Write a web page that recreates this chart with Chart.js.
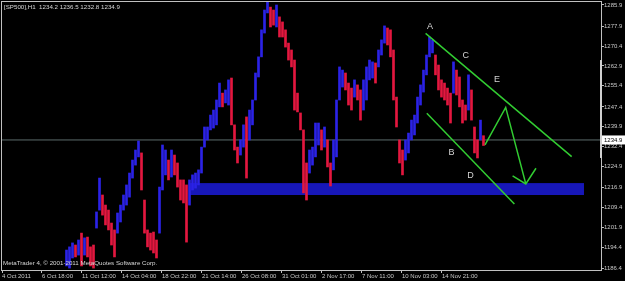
<!DOCTYPE html>
<html>
<head>
<meta charset="utf-8">
<script src="https://cdn.jsdelivr.net/npm/chart.js@4.4.1/dist/chart.umd.min.js"></script>
<style>
  html, body { margin: 0; padding: 0; background: #000; }
  #wrap { width: 625px; height: 281px; }
</style>
</head>
<body>
<div id="wrap"><canvas id="priceChart"></canvas></div>
<script>
// SP500 H1 bars. Bars before slot 21 are below the visible price range.
const firstBar = 21;
const barHigh = [
  1193.3, 1194.5, 1196.0, 1195.2, 1197.1, 1199.7, 1197.9, 1198.2, 1194.5, 1195.2,
  1207.7, 1220.5, 1214.1, 1210.3, 1208.4, 1203.5, 1200.9, 1207.3, 1210.3, 1214.1,
  1217.9, 1222.4, 1227.3, 1231.1, 1234.5, 1230.0, 1212.2, 1200.9, 1199.7, 1200.1,
  1197.1, 1217.1, 1233.0, 1231.1, 1227.3, 1231.1, 1229.2, 1226.2, 1219.8, 1219.8,
  1217.9, 1219.8, 1221.7, 1222.4, 1223.6, 1232.2, 1239.8, 1239.8, 1244.3, 1246.2,
  1250.0, 1256.4, 1252.6, 1253.8, 1257.6, 1258.3, 1240.6, 1232.2, 1234.9, 1240.6,
  1243.6, 1246.2, 1250.0, 1260.2, 1266.3, 1276.5, 1284.0, 1287.0, 1285.1, 1284.0,
  1285.9, 1281.4, 1279.5, 1276.5, 1271.5, 1268.9, 1265.1, 1252.6, 1245.1, 1238.7,
  1226.2, 1231.1, 1232.2, 1241.3, 1241.3, 1238.7, 1239.8, 1234.9, 1226.2, 1234.9,
  1250.0, 1262.5, 1261.3, 1260.2, 1256.4, 1254.5, 1257.6, 1255.7, 1253.8, 1257.6,
  1262.5, 1265.1, 1264.4, 1264.0, 1268.9, 1272.7, 1278.0, 1277.2, 1276.5, 1268.9,
  1251.1, 1234.9, 1231.1, 1234.9, 1237.5, 1242.4, 1244.3, 1251.1, 1255.7, 1261.3,
  1267.0, 1273.8, 1272.7, 1267.0, 1263.2, 1257.6, 1256.4, 1254.5, 1252.6, 1264.4,
  1261.3, 1258.7, 1250.0, 1248.1, 1259.5, 1253.8, 1239.8, 1234.9, 1242.4, 1236.5
];
const barLow = [
  1187.3, 1186.5, 1190.3, 1190.7, 1191.4, 1187.3, 1191.4, 1190.7, 1187.3, 1186.5,
  1201.6, 1208.4, 1206.5, 1202.8, 1200.9, 1195.2, 1190.7, 1199.7, 1203.9, 1208.4,
  1210.3, 1213.3, 1220.5, 1225.4, 1228.5, 1216.0, 1199.7, 1194.5, 1193.3, 1192.2,
  1190.3, 1199.7, 1216.0, 1221.7, 1219.8, 1220.9, 1221.7, 1217.1, 1212.2, 1211.1,
  1196.3, 1210.3, 1216.0, 1216.7, 1217.9, 1222.4, 1232.2, 1234.9, 1238.7, 1239.4,
  1240.6, 1247.4, 1247.4, 1248.9, 1248.1, 1240.6, 1231.1, 1226.2, 1229.2, 1232.2,
  1220.5, 1234.9, 1240.6, 1250.0, 1258.7, 1266.3, 1275.3, 1282.9, 1277.6, 1278.3,
  1277.6, 1273.8, 1273.8, 1270.0, 1265.1, 1262.5, 1246.2, 1245.5, 1238.7, 1214.9,
  1212.2, 1222.4, 1225.4, 1228.5, 1233.0, 1231.1, 1232.2, 1224.7, 1217.5, 1223.6,
  1228.5, 1250.0, 1254.9, 1253.8, 1248.1, 1246.2, 1251.1, 1250.0, 1242.4, 1246.2,
  1250.0, 1257.6, 1258.3, 1256.4, 1262.5, 1267.0, 1271.5, 1270.8, 1266.3, 1250.0,
  1239.8, 1226.2, 1221.7, 1227.3, 1230.0, 1234.9, 1236.8, 1241.3, 1248.1, 1253.0,
  1259.5, 1266.3, 1267.8, 1259.5, 1253.8, 1251.1, 1250.0, 1248.1, 1241.3, 1252.6,
  1251.9, 1247.4, 1241.3, 1242.4, 1246.2, 1242.4, 1230.0, 1228.1, 1234.9, 1232.8
];

const symbolTitle = '[SP500],H1  1234.2 1236.5 1232.8 1234.9';
const copyright = 'MetaTrader 4, \u00a9 2001-2011 MetaQuotes Software Corp.';
const lastPrice = 1234.9;

const timeLabels = ['4 Oct 2011', '6 Oct 18:00', '11 Oct 12:00', '14 Oct 04:00', '18 Oct 22:00',
  '21 Oct 14:00', '26 Oct 08:00', '31 Oct 01:00', '2 Nov 17:00', '7 Nov 11:00', '10 Nov 03:00', '14 Nov 21:00'];
const priceTicks = [1285.9, 1277.9, 1270.4, 1262.9, 1255.4, 1247.4, 1239.9,
  1232.4, 1224.9, 1216.9, 1209.4, 1201.9, 1194.4, 1186.4];

// objects drawn on the chart (bar slot / price)
const supportZone = { from: 62.7, to: 194, top: 1218.6, bottom: 1214.1 };
const upperTrend = [{ x: 141.2, y: 1275.2 }, { x: 189.9, y: 1228.6 }];
const lowerTrend = [{ x: 141.6, y: 1245.0 }, { x: 170.8, y: 1210.7 }];
const forecastPath = [{ x: 161.0, y: 1233.0 }, { x: 167.9, y: 1247.2 }, { x: 174.6, y: 1218.3 }];
const arrowHead = [{ x: 170.2, y: 1221.3 }, { x: 174.6, y: 1218.3 }, { x: 178.0, y: 1224.2 }];
const waveLabels = [
  { text: 'A', x: 142.7, y: 1277.6 },
  { text: 'C', x: 154.6, y: 1266.9 },
  { text: 'E', x: 165.0, y: 1257.8 },
  { text: 'B', x: 149.8, y: 1230.0 },
  { text: 'D', x: 156.2, y: 1221.5 }
];
const scaleMarker = [1228.1, 1265.1];

const xMax = 199.67;
const labelStep = 40 / 3;
const upColor = '#2b22e6';
const downColor = '#e3173f';
const lineGreen = '#32cd32';

Chart.defaults.font.family = '"Liberation Sans", Arial, sans-serif';
Chart.defaults.font.size = 6;

const bars = barHigh.map((h, i) => ({ x: firstBar + i + 0.5, y: [barLow[i], h] }));
const barColors = barHigh.map((h, i) => {
  if (i === 0) return upColor;
  const mid = (h + barLow[i]) / 2;
  const prev = (barHigh[i - 1] + barLow[i - 1]) / 2;
  return mid >= prev ? upColor : downColor;
});

const greenLine = (data) => ({
  type: 'line', data, borderColor: lineGreen, borderWidth: 1.5,
  pointRadius: 0, tension: 0, fill: false, order: 1
});

// MT4 style extras: zone, frame, texts, price label
const mtDecor = {
  id: 'mtDecor',
  beforeDatasetsDraw(chart) {
    const { ctx, chartArea: a, scales: { x, y } } = chart;
    ctx.save();
    ctx.beginPath();
    ctx.rect(a.left, a.top, a.width, a.height);
    ctx.clip();
    const x0 = x.getPixelForValue(supportZone.from);
    const x1 = x.getPixelForValue(supportZone.to);
    const y0 = y.getPixelForValue(supportZone.top);
    const y1 = y.getPixelForValue(supportZone.bottom);
    ctx.fillStyle = '#1717b8';
    ctx.fillRect(x0, y0, x1 - x0, y1 - y0);
    ctx.restore();
  },
  afterDatasetsDraw(chart) {
    const { ctx, scales: { x, y } } = chart;
    ctx.save();
    ctx.fillStyle = '#d4d4d4';
    ctx.font = '9px "Liberation Sans", Arial, sans-serif';
    ctx.textAlign = 'center';
    ctx.textBaseline = 'middle';
    waveLabels.forEach(l => ctx.fillText(l.text, x.getPixelForValue(l.x), y.getPixelForValue(l.y)));
    ctx.restore();
  },
  afterDraw(chart) {
    const { ctx, chartArea: a, scales: { y } } = chart;
    ctx.save();
    ctx.strokeStyle = '#c0c0c0';
    ctx.lineWidth = 1;
    ctx.strokeRect(a.left - 0.5, a.top - 0.5, a.width + 1, a.height + 1);

    const m0 = y.getPixelForValue(scaleMarker[1]);
    const m1 = y.getPixelForValue(scaleMarker[0]);
    ctx.fillStyle = '#d0d0d0';
    ctx.fillRect(a.right - 1, m0, 2, m1 - m0);

    ctx.font = '6.2px "Liberation Sans", Arial, sans-serif';
    ctx.fillStyle = '#d8d8d8';
    ctx.textBaseline = 'alphabetic';
    ctx.fillText(symbolTitle, a.left + 2, a.top + 6.5);
    ctx.fillText(copyright, a.left + 1, a.bottom - 5);

    const py = y.getPixelForValue(lastPrice);
    ctx.fillStyle = '#ffffff';
    ctx.fillRect(a.right + 1, py - 4.5, 24, 9);
    ctx.fillStyle = '#000000';
    ctx.font = '6px "Liberation Sans", Arial, sans-serif';
    ctx.textBaseline = 'middle';
    ctx.fillText(lastPrice.toFixed(1), a.right + 3, py + 0.5);
    ctx.restore();
  }
};

const ctx = document.getElementById('priceChart').getContext('2d');
const priceChart = new Chart(ctx, {
  type: 'bar',
  data: {
    datasets: [
      {
        type: 'line',
        data: [{ x: 0, y: lastPrice }, { x: xMax, y: lastPrice }],
        borderColor: '#5c6c6c', borderWidth: 1, pointRadius: 0, order: 3
      },
      {
        type: 'bar', data: bars, backgroundColor: barColors,
        barThickness: 2, grouped: false, order: 2
      },
      greenLine(upperTrend),
      greenLine(lowerTrend),
      greenLine(forecastPath),
      greenLine(arrowHead)
    ]
  },
  options: {
    responsive: true,
    maintainAspectRatio: false,
    animation: false,
    layout: { padding: { top: 2, left: 2, right: 0, bottom: 0 } },
    plugins: { legend: { display: false }, tooltip: { enabled: false } },
    scales: {
      x: {
        type: 'linear', min: 0, max: xMax, offset: false,
        grid: { drawOnChartArea: false, drawTicks: true, tickLength: 3, color: '#c0c0c0', offset: false },
        border: { display: false },
        ticks: {
          color: '#c8c8c8', padding: 0, align: 'start', autoSkip: false,
          maxRotation: 0, minRotation: 0,
          callback: (v, i) => timeLabels[i]
        },
        afterBuildTicks: s => { s.ticks = timeLabels.map((_, i) => ({ value: i * labelStep })); },
        afterFit: s => { s.height = 11; s.paddingLeft = 0; s.paddingRight = 0; }
      },
      y: {
        position: 'right', min: 1185.76, max: 1287.03,
        grid: { drawOnChartArea: false, drawTicks: true, tickLength: 3, color: '#c0c0c0' },
        border: { display: false },
        ticks: {
          color: '#c8c8c8', padding: 0, autoSkip: false,
          callback: v => v.toFixed(1)
        },
        afterBuildTicks: s => { s.ticks = priceTicks.map(v => ({ value: v })); },
        afterFit: s => { s.width = 24; s.paddingTop = 0; s.paddingBottom = 0; }
      }
    }
  },
  plugins: [mtDecor]
});
</script>
</body>
</html>
